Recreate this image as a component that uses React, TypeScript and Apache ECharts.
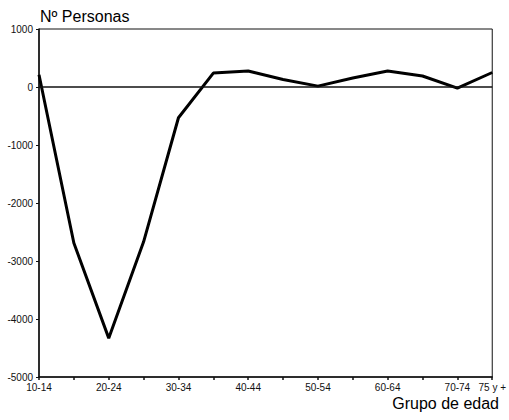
import React, { useEffect, useRef } from "react";
import * as echarts from "echarts";

const categories = ["10-14", "15-19", "20-24", "25-29", "30-34", "35-39", "40-44", "45-49", "50-54", "55-59", "60-64", "65-69", "70-74", "75 y +"];
const values = [210, -2690, -4330, -2670, -530, 240, 275, 130, 15, 155, 275, 190, -20, 250];
const yTitle = "Nº Personas";
const xTitle = "Grupo de edad";

export default function App() {
  const ref = useRef<HTMLDivElement>(null);
  useEffect(() => {
    const chart = echarts.init(ref.current!, null, { renderer: "svg" });
    const font = "'Liberation Sans', Arial, sans-serif";
    chart.setOption({
      animation: false,
      backgroundColor: "#ffffff",
      grid: {
        left: 39, right: 14, top: 29, bottom: 43,
        show: true, borderColor: "#111", borderWidth: 1, backgroundColor: "transparent",
      },
      xAxis: {
        type: "category",
        data: categories,
        boundaryGap: false,
        axisLine: { onZero: false, lineStyle: { color: "#111", width: 1.5 } },
        axisTick: { show: true, length: 3, interval: 0, lineStyle: { color: "#111", width: 1.5 } },
        axisLabel: {
          interval: (i: number) => i % 2 === 0 || i === categories.length - 1,
          color: "#111", fontSize: 10, fontFamily: font, margin: 5,
        },
        splitLine: { show: false },
      },
      yAxis: {
        type: "value",
        min: -5000, max: 1000, interval: 1000,
        axisLine: { show: true, lineStyle: { color: "#111", width: 1.5 } },
        axisTick: { show: true, length: 3, lineStyle: { color: "#111", width: 1 } },
        axisLabel: { color: "#111", fontSize: 10, fontFamily: font, margin: 6, formatter: (v: number) => String(v) },
        splitLine: { show: false },
      },
      series: [
        {
          type: "line",
          data: values,
          symbol: "none",
          lineStyle: { color: "#000", width: 3 },
          markLine: {
            silent: true,
            symbol: ["none", "none"],
            label: { show: false },
            lineStyle: { color: "#111", width: 1.5, type: "solid" },
            data: [{ yAxis: 0 }],
          },
        },
      ],
      graphic: [
        {
          type: "text", left: 40, top: 8,
          style: { text: yTitle, fontSize: 16, fontFamily: font, fill: "#000" },
        },
        {
          type: "text", right: 10, top: 395,
          style: { text: xTitle, fontSize: 16, fontFamily: font, fill: "#000" },
        },
      ],
    });
    return () => chart.dispose();
  }, []);
  return <div ref={ref} style={{ position: "fixed", left: 0, top: 0, width: 509, height: 420 }} />;
}
